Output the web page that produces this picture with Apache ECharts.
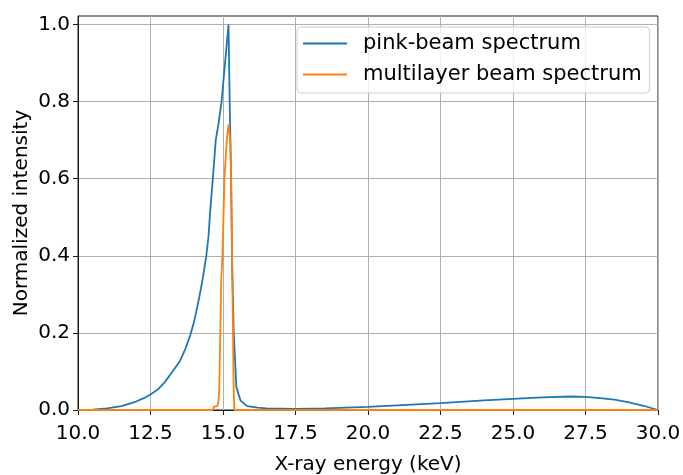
<!DOCTYPE html>
<html>
<head>
<meta charset="utf-8">
<script src="https://cdn.jsdelivr.net/npm/echarts@6/dist/echarts.min.js"></script>
<style>
  html, body { margin: 0; padding: 0; background: #fff; }
  #chart { width: 683px; height: 475px; }
</style>
</head>
<body>
<div id="chart"></div>
<script>
// pink-beam spectrum
const pinkEnergy = [10.0, 10.5, 11.0, 11.5, 12.0, 12.25, 12.5, 12.75, 13.0, 13.24, 13.3, 13.5, 13.7, 13.87, 14.0,
    14.16, 14.3, 14.42, 14.5, 14.56, 14.65, 14.75, 14.85, 14.95, 15.07, 15.19, 15.23, 15.28, 15.31, 15.37,
    15.46, 15.6, 15.83, 16.2, 16.5, 17.5, 18.5, 20.0, 21.0, 22.5, 24.0, 25.0, 26.0, 27.0, 27.5,
    28.0, 28.5, 29.0, 29.5, 30.0];
const pinkValues = [0.000, 0.001, 0.004, 0.010, 0.022, 0.030, 0.040, 0.053, 0.073, 0.098, 0.103, 0.125, 0.158, 0.194, 0.228,
    0.284, 0.340, 0.397, 0.450, 0.518, 0.600, 0.700, 0.745, 0.800, 0.900, 1.000, 0.800, 0.600, 0.400, 0.200,
    0.060, 0.025, 0.010, 0.006, 0.004, 0.003, 0.004, 0.008, 0.012, 0.018, 0.025, 0.029, 0.033, 0.035, 0.034,
    0.031, 0.027, 0.020, 0.011, 0.000];

// multilayer beam spectrum
const mlEnergy = [10.0, 14.65, 14.68, 14.8, 14.84, 14.87, 14.94, 14.98, 15.05, 15.13, 15.19, 15.25, 15.28, 15.32, 15.37, 15.39, 30.0];
const mlValues = [0.000, 0.000, 0.008, 0.010, 0.020, 0.050, 0.340, 0.400, 0.600, 0.700, 0.740, 0.700, 0.600, 0.350, 0.050, 0.000, 0.000];

const yTicks = [0.0, 0.2, 0.4, 0.6, 0.8, 1.0];

const font = 'DejaVu Sans';
const chart = echarts.init(document.getElementById('chart'));

const pairs = (xs, ys) => xs.map((x, i) => [x, ys[i]]);

chart.setOption({
    animation: false,
    grid: {
        left: 78,
        right: 25,
        top: 16,
        bottom: 65,
        outerBoundsMode: 'none',
        show: true,
        borderColor: '#1a1a1a',
        borderWidth: 1
    },
    legend: {
        left: 297,
        top: 27,
        orient: 'vertical',
        icon: 'rect',
        itemWidth: 44,
        itemHeight: 2,
        itemGap: 8,
        padding: [5, 8, 7, 6],
        borderColor: '#cccccc',
        borderWidth: 1,
        borderRadius: 4,
        backgroundColor: 'rgba(255,255,255,0.8)',
        textStyle: {
            fontFamily: font,
            fontSize: 21,
            lineHeight: 23,
            color: '#000',
            padding: [0, 0, 0, 11]
        },
        data: ['pink-beam spectrum', 'multilayer beam spectrum']
    },
    xAxis: {
        type: 'value',
        min: 10,
        max: 30,
        interval: 2.5,
        name: 'X-ray energy (keV)',
        nameLocation: 'middle',
        nameGap: 45,
        nameMoveOverlap: false,
        nameTextStyle: { fontFamily: font, fontSize: 20, color: '#000' },
        axisLine: { show: true, onZero: false, lineStyle: { color: '#1a1a1a', width: 1 } },
        axisTick: { show: true, inside: false, length: 5, lineStyle: { color: '#1a1a1a' } },
        axisLabel: {
            fontFamily: font, fontSize: 20, color: '#000', margin: 14,
            formatter: v => v.toFixed(1)
        },
        splitLine: { show: true, lineStyle: { color: '#b0b0b0', width: 1 } }
    },
    yAxis: {
        type: 'value',
        min: 0,
        max: 1.022,
        interval: 0.2,
        name: 'Normalized intensity',
        nameLocation: 'middle',
        nameGap: 46,
        nameMoveOverlap: false,
        nameTextStyle: { fontFamily: font, fontSize: 20, color: '#000' },
        axisLine: { show: true, lineStyle: { color: '#1a1a1a', width: 1 } },
        axisTick: { show: true, length: 5, customValues: yTicks, lineStyle: { color: '#1a1a1a' } },
        axisLabel: {
            fontFamily: font, fontSize: 20, color: '#000', margin: 8,
            customValues: yTicks,
            formatter: v => v.toFixed(1)
        },
        splitLine: { show: true, lineStyle: { color: '#b0b0b0', width: 1 } }
    },
    series: [
        {
            name: 'pink-beam spectrum',
            type: 'line',
            data: pairs(pinkEnergy, pinkValues),
            showSymbol: false,
            color: '#1f77b4',
            lineStyle: { color: '#1f77b4', width: 1.8 },
            z: 3
        },
        {
            name: 'multilayer beam spectrum',
            type: 'line',
            data: pairs(mlEnergy, mlValues),
            showSymbol: false,
            color: '#ff7f0e',
            lineStyle: { color: '#ff7f0e', width: 1.8 },
            z: 4
        }
    ]
});
</script>
</body>
</html>
